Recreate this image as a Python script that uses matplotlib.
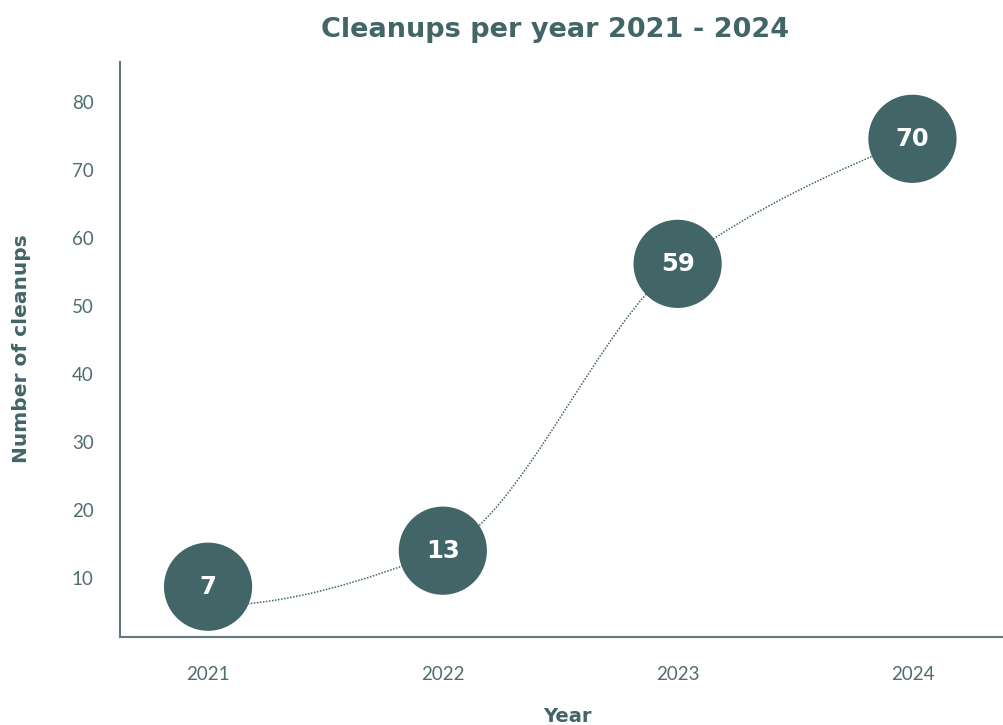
import numpy as np
import matplotlib
matplotlib.use("Agg")
import matplotlib.pyplot as plt
from matplotlib.path import Path
from matplotlib.patches import PathPatch

# ---- data ----
years = [2021, 2022, 2023, 2024]
labels = ["7", "13", "59", "70"]
circle_values = [8.7, 14.0, 56.2, 74.6]   # circle heights
line_values = [5.9, 14.0, 56.2, 74.6]     # dotted trend line heights
yticks = [10, 20, 30, 40, 50, 60, 70, 80]
title = "Cleanups per year 2021 - 2024"
xlabel = "Year"
ylabel = "Number of cleanups"

DARK = "#426568"
TEXT = "#4f6e70"

fig = plt.figure(figsize=(10.04, 7.25), dpi=100)
ax = fig.add_axes([120/1004, (725-637)/725, 1 - 120/1004, (637-62)/725])
ax.set_xlim(2020.625, 2024.39)
ax.set_ylim(1.3, 85.9)

# monotone cubic (Fritsch-Carlson) path through line points, flat start
x = np.array(years, dtype=float)
y = np.array(line_values, dtype=float)
h = np.diff(x)
s = np.diff(y) / h
m = np.zeros_like(y)
for i in range(1, len(y) - 1):
    if s[i-1] * s[i] <= 0:
        m[i] = 0
    else:
        m[i] = (3 * (h[i-1] + h[i])) / ((2*h[i] + h[i-1]) / s[i-1] + (h[i] + 2*h[i-1]) / s[i])
m[0] = 0.0
m[-1] = (3 * s[-1] - m[-2]) / 2
verts = [(x[0], y[0])]
codes = [Path.MOVETO]
for i in range(len(x) - 1):
    d = h[i] / 3
    verts += [(x[i] + d, y[i] + m[i] * d), (x[i+1] - d, y[i+1] - m[i+1] * d), (x[i+1], y[i+1])]
    codes += [Path.CURVE4] * 3
ax.add_patch(PathPatch(Path(verts, codes), facecolor="none", edgecolor=DARK,
                       lw=1.1, linestyle=(0, (1, 1)), zorder=2))

ax.scatter(years, circle_values, s=63.5**2, color=DARK, edgecolors="none", zorder=3)
for xx, yy, lab in zip(years, circle_values, labels):
    ax.text(xx, yy, lab, ha="center", va="center", color="white",
            fontsize=17.5, fontweight="bold", zorder=4)

ax.set_xticks(years)
ax.set_xticklabels([str(v) for v in years])
ax.set_yticks(yticks)
ax.tick_params(axis="both", length=0, labelsize=13.5, colors=TEXT)
ax.tick_params(axis="x", pad=21)
ax.tick_params(axis="y", pad=19)
for lab in ax.get_xticklabels() + ax.get_yticklabels():
    lab.set_family(["Lato", "DejaVu Sans"])
for sp in ["top", "right"]:
    ax.spines[sp].set_visible(False)
for sp in ["left", "bottom"]:
    ax.spines[sp].set_color("#5d7b7d")
    ax.spines[sp].set_linewidth(1.5)

fig.text(555/1004, 1 - 30/725, title, ha="center", va="center",
         fontsize=19.5, fontweight="bold", color=DARK)
fig.text(567/1004, 1 - 716/725, xlabel, ha="center", va="center",
         fontsize=14, fontweight="bold", color=DARK)
fig.text(22/1004, 1 - 349/725, ylabel, ha="center", va="center", rotation=90,
         fontsize=14.5, fontweight="bold", color=DARK)

fig.savefig("out.png", dpi=100, facecolor="white")
